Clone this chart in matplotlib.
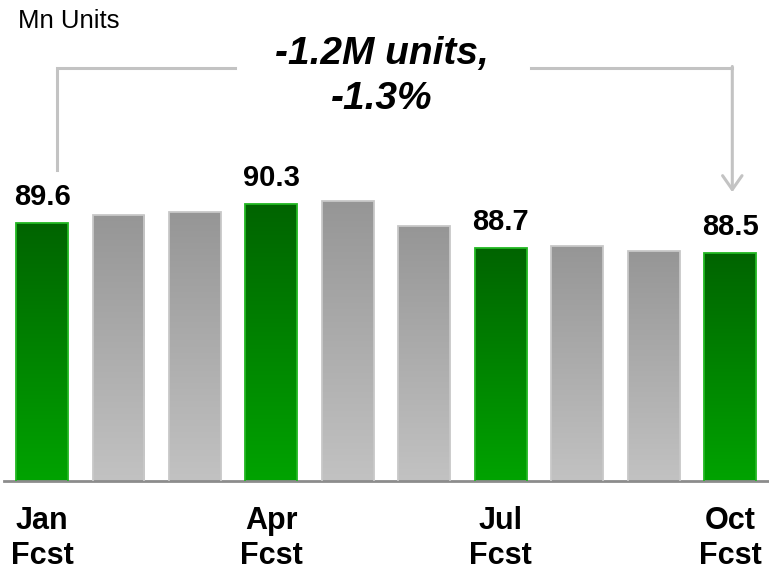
# Monthly forecast chart - Mn units, Jan to Oct

import numpy as np
import matplotlib
matplotlib.use('Agg')
import matplotlib.pyplot as plt
from matplotlib.colors import LinearSegmentedColormap

plt.rcParams['font.family'] = ['Liberation Sans', 'DejaVu Sans']

# Data
months = ['Jan', 'Feb', 'Mar', 'Apr', 'May', 'Jun', 'Jul', 'Aug', 'Sep', 'Oct']
units = [89.6, 89.9, 90.0, 90.3, 90.4, 89.5, 88.7, 88.75, 88.57, 88.5]
is_fcst = [True, False, False, True, False, False, True, False, False, True]
tick_labels = ['Jan\nFcst', '', '', 'Apr\nFcst', '', '', 'Jul\nFcst', '', '', 'Oct\nFcst']
change_text = '-1.2M units,\n-1.3%'
unit_label = 'Mn Units'

# Axis floor / ceiling (chart is not zero based)
y_floor = 80.3
y_top = 97.65

green_cmap = LinearSegmentedColormap.from_list('green', ['#00A300', '#006400'])
grey_cmap = LinearSegmentedColormap.from_list('grey', ['#C2C2C2', '#969696'])

fig = plt.figure(figsize=(7.69, 5.70), dpi=100)
ax = fig.add_axes([0.005, 0.157, 0.994, 0.843])

x = np.arange(len(months))
bar_width = 0.68

edge_colors = ['#22B822' if f else '#C8C8C8' for f in is_fcst]
bars = ax.bar(x, units, bar_width, facecolor='none', edgecolor=edge_colors,
              linewidth=1.3, zorder=3)

# Vertical gradient inside each bar
grad = np.linspace(0, 1, 256).reshape(-1, 1)
for bar, val, fcst in zip(bars, units, is_fcst):
    x0 = bar.get_x()
    x1 = x0 + bar.get_width()
    im = ax.imshow(grad, extent=[x0, x1, y_floor, val], origin='lower',
                   cmap=green_cmap if fcst else grey_cmap, aspect='auto', zorder=2)
    im.set_clip_path(bar)

# Value labels on the forecast bars
for i, (val, fcst) in enumerate(zip(units, is_fcst)):
    if fcst:
        ax.annotate(f'{val:.1f}', xy=(i, val), xytext=(0, 13), textcoords='offset points',
                    ha='center', va='baseline', fontsize=21, fontweight='bold')

ax.set_xlim(-0.5, len(months) - 0.5)
ax.set_ylim(y_floor, y_top)

ax.set_xticks(x, tick_labels)
ax.tick_params(axis='x', length=0, pad=18, labelsize=22)
for lab in ax.get_xticklabels():
    lab.set_fontweight('bold')
    lab.set_linespacing(1.22)
ax.set_yticks([])

for side in ['top', 'left', 'right']:
    ax.spines[side].set_visible(False)
ax.spines['bottom'].set_color('#8C8C8C')
ax.spines['bottom'].set_linewidth(2)

# Bracket from Jan to Oct with the change callout
line_col = '#C3C3C3'
ax.plot([0.2, 0.2, 2.53], [91.5, 95.2, 95.2], color=line_col, lw=2.2,
        clip_on=False, solid_joinstyle='miter', zorder=4)
ax.plot([6.39, 9.03], [95.2, 95.2], color=line_col, lw=2.2, clip_on=False, zorder=4)
ax.annotate('', xy=(9.03, 90.71), xytext=(9.03, 95.25),
            arrowprops=dict(arrowstyle='->,head_length=1.0,head_width=0.7',
                            color=line_col, lw=2.2, shrinkA=0, shrinkB=0))
ax.text(4.44, 94.9, change_text, ha='center', va='center', fontsize=28,
        fontweight='bold', style='italic', linespacing=1.32)

fig.text(18 / 769, 1 - 28 / 570, unit_label, fontsize=18.5, va='baseline')

fig.savefig('out.png', dpi=100)
